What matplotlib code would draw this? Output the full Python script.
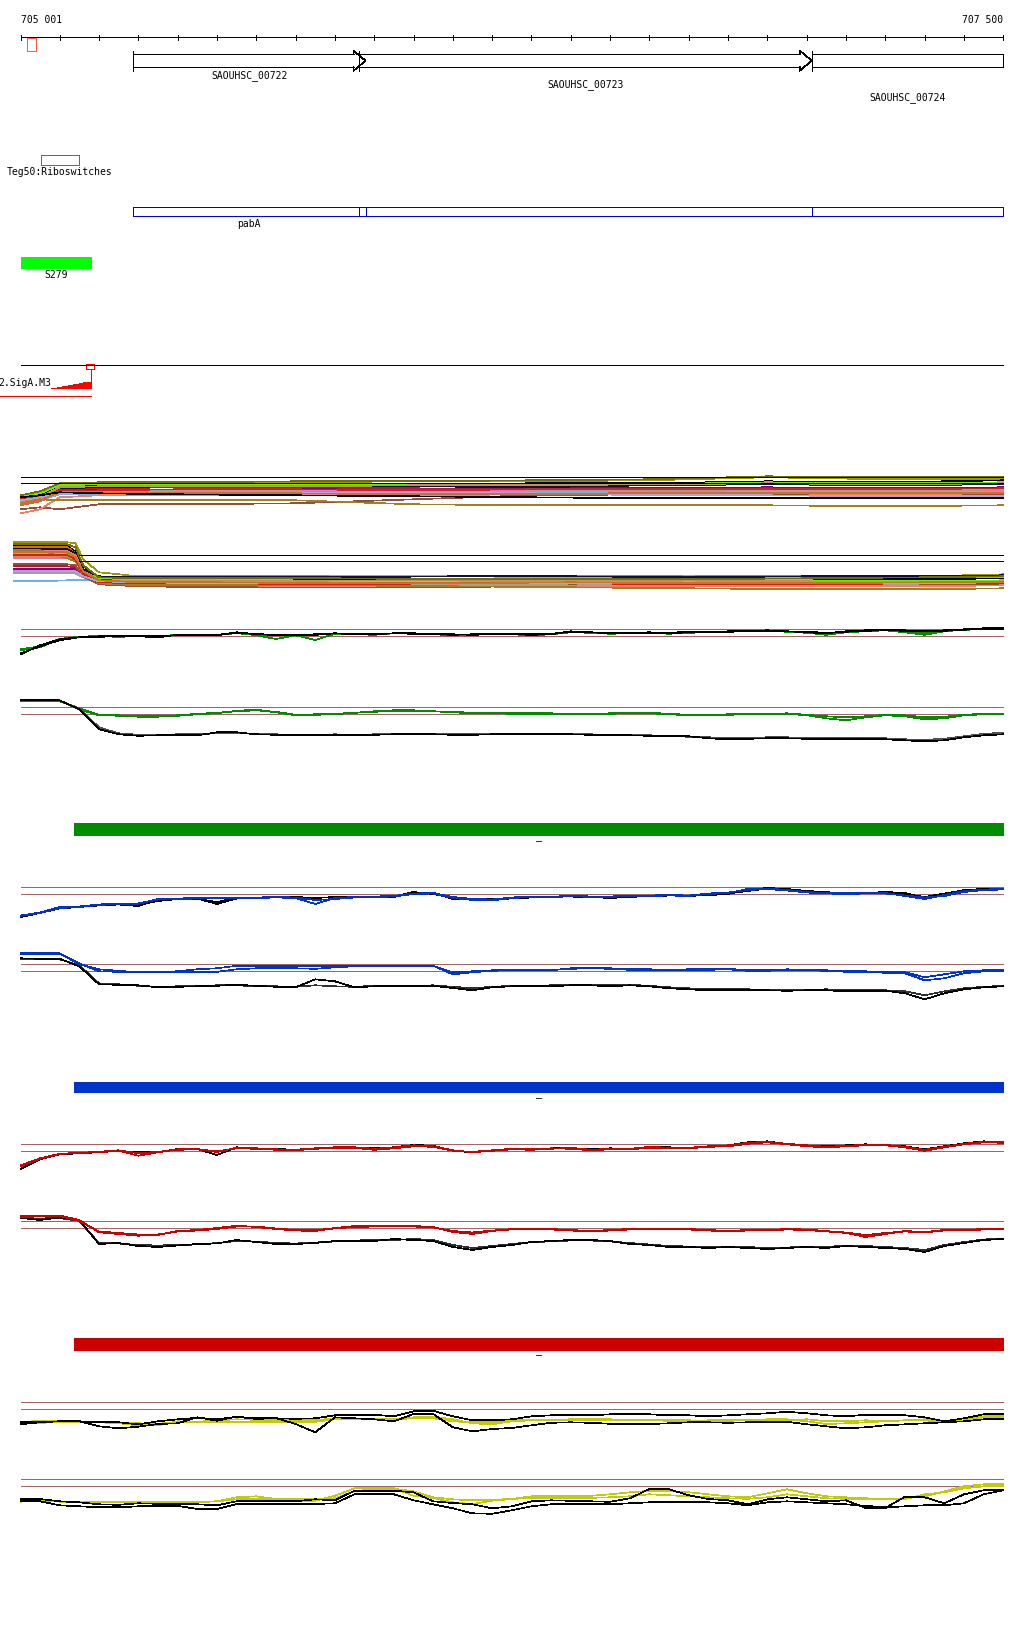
import numpy as np
import matplotlib
matplotlib.use('Agg')
import matplotlib.pyplot as plt

# genome window shown
START, END = 705001, 707500
TICKS = [705001] + list(range(705100, 707501, 100))

# annotation features (bp)
GENES = ['SAOUHSC_00722', 'SAOUHSC_00723', 'SAOUHSC_00724']
GENE_START = [705286, 705862, 707013]
GENE_END = [705878, 707013, 707500]
GENE_ARROW = [True, True, False]
PABA_START, PABA_END = 705286, 707500
PABA_SPLITS = [705862, 705878, 707013]
SMALL_BOX = (705018, 705041)
TEG50 = (705052, 705150)
S279 = (705001, 705179)
SIGA_BOX = (705167, 705187)
SIGA_POS = [705078, 705093, 705105, 705122, 705135, 705148, 705160, 705179]
SIGA_SCORE = [0.3, 1, 2, 3.3, 4.3, 5.3, 6.3, 7]
BAR_START = 705137

# multi-sample tracks (coarse grid)
MA_POS = [705001, 705050, 705100, 705200, 705400, 705700, 706000, 706300, 706600, 706900, 707200, 707500]
MA_LINES = [
    [-14, -10, -1, 0, 1, 1, 2, 2, 3, 6, 4, 4],
    [-13, -11, -3, -2, -2, -1, -1, 0, 0, 2, 1, 3],
    [-22, -18, -10, -9, -9, -9, -10, -10, -9, -8, -9, -9],
    [-18, -17, -11, -11, -11, -11, -10, -9, -8, -8, -9, -8],
    [-16, -13, -7, -7, -6, -6, -6, -5, -5, -4, -5, -4],
    [-15, -12, -6, -5, -4, -4, -5, -6, -6, -5, -6, -6],
    [-13, -10, -2, -1, -2, -2, -1, -1, -1, 1, 0, 1],
    [-19, -15, -8, -7, -7, -8, -7, -7, -8, -7, -7, -7],
    [-17, -15, -9, -8, -8, -8, -9, -8, -7, -7, -8, -6],
    [-14, -12, -5, -4, -3, -3, -3, -4, -2, -1, -2, -1],
    [-26, -24, -26, -21, -21, -20, -16, -12, -11, -11, -12, -11],
    [-30, -26, -14, -12, -12, -12, -12, -11, -10, -10, -11, -10],
    [-20, -16, -17, -17, -17, -17, -21, -22, -22, -22, -23, -22],
    [-18, -14, -4, -3, -3, -3, -2, -2, -1, 0, -1, 0],
    [-16, -13, -8, -7, -6, -6, -7, -6, -6, -6, -6, -5],
    [-17, -14, -10, -10, -10, -10, -10, -10, -12, -12, -13, -13],
    [-12, -8, 0, 1, 1, 2, 2, 3, 4, 7, 6, 6],
    [-21, -17, -9, -9, -10, -10, -11, -11, -10, -10, -10, -10],
    [-14, -12, -9, -10, -11, -12, -13, -14, -15, -15, -15, -15],
]
MB_POS = [704983, 705050, 705120, 705140, 705160, 705200, 705300, 705500, 705800,
          706100, 706400, 706700, 707000, 707300, 707500]
MB_LINES = [
    [19, 19, 19, 18, 2, -11, -15, -15, -15, -15, -15, -15, -15, -15, -13],
    [16, 16, 15, 10, -5, -16, -17, -18, -19, -19, -18, -19, -18, -18, -17],
    [14, 14, 14, 8, -8, -18, -20, -20, -21, -21, -22, -21, -21, -20, -20],
    [-20, -20, -19, -19, -19, -18, -17, -16, -15, -15, -16, -15, -16, -16, -16],
    [-8, -8, -8, -8, -14, -19, -19, -21, -21, -22, -21, -22, -21, -21, -22],
    [-5, -5, -5, -6, -13, -20, -20, -21, -22, -23, -23, -22, -22, -22, -21],
    [7, 8, 8, 4, -10, -17, -18, -18, -17, -18, -18, -18, -19, -20, -19],
    [3, 3, 3, 0, -12, -20, -21, -22, -22, -21, -20, -21, -22, -22, -21],
    [-12, -12, -12, -12, -16, -21, -22, -23, -23, -23, -23, -24, -24, -23, -22],
    [12, 12, 12, 8, -8, -15, -16, -16, -16, -15, -15, -16, -15, -15, -14],
    [-3, -3, -3, -4, -15, -23, -25, -26, -26, -26, -24, -25, -25, -24, -23],
    [10, 10, 10, 6, -10, -21, -24, -24, -25, -24, -25, -25, -25, -25, -24],
    [11, 11, 3, 0, -12, -22, -24, -24, -24, -25, -26, -27, -28, -28, -27],
    [5, 5, 5, 2, -11, -19, -20, -20, -20, -19, -20, -20, -20, -21, -20],
    [6, 6, 6, 2, -12, -21, -22, -22, -23, -22, -22, -23, -23, -22, -22],
    [-10, -10, -10, -10, -15, -20, -21, -22, -21, -21, -22, -21, -22, -22, -21],
    [17, 17, 17, 14, -4, -16, -17, -17, -17, -18, -18, -18, -17, -16, -15],
    [9, 9, 9, 4, -10, -19, -21, -21, -22, -22, -21, -22, -22, -21, -21],
]
MULTI_COLORS = ['#9a9a00', '#000000', '#e06030', '#70b0f0', '#800080', '#c0103c',
                '#66ee00', '#e870a0', '#a0a0a0', '#101040', '#905040', '#f08060',
                '#a08020', '#c09060', '#d02020', '#b0a0e0', '#707000', '#d07020', '#000000']

# condition tracks: 50 bp grid
POS = [705001] + list(range(705050, 707501, 50))

G1_BLACK = [-18, -9, -3, -1, 0, 0, 0, -1, 1.5, 1, 1, 4, 2, 1.5, 1.5, 2, 3, 2, 2, 3,
            2.5, 2, 1.5, 2, 2.5, 2, 1.5, 2, 5, 4, 3, 3.5, 4, 3, 4, 4, 5, 5.5, 6, 5,
            4, 3, 5, 6, 6.5, 6, 5, 6, 7, 8, 8]
G1_BLACK2 = [-17, -10, -4, -1, -0.5, 0, 0.5, 0, 1, 1.5, 1.5, 3.5, 2.5, 1, 1, 1.5, 3, 2.5, 2, 3,
             3, 2.5, 2, 1.5, 2, 2.5, 2, 2.5, 4.5, 4, 3.5, 3, 3.5, 3.5, 4.5, 4.5, 4.5, 5, 5.5, 5,
             4.5, 3.5, 4.5, 5.5, 6, 5.5, 5, 5.5, 6.5, 7.5, 7.5]
G1_GREEN = [-14, -11, -3, -1, 0, -0.5, 0, 0, 1.5, 1, 1, 3.5, 1, -2.7, 1, -3.7, 2.5, 2, 1.5, 3,
            2.5, 2, 1, 1.5, 2, 2, 1, 2, 4, 3.5, 2.5, 3, 3.5, 2.5, 3.5, 4, 4.5, 5, 5.5, 4.5,
            3.5, 1.5, 4, 5, 6, 4, 1.5, 5, 6.5, 7.5, 8]
G1_GREEN2 = [-13, -10, -2.5, -0.5, 0.5, 0.5, 0.5, 0, 1, 1.5, 1.5, 3, 1.5, 1, 1.5, 1.5, 2.5, 2.5, 2, 3,
             3, 2.5, 1.5, 1.5, 2.5, 2.5, 1.5, 2.5, 4.5, 4, 3, 3.5, 3.5, 3, 4, 4, 5, 5, 5.5, 5,
             4, 2.5, 4.5, 5.5, 6, 5, 3, 5.5, 6.5, 7, 7.5]
G2_BLACK = [14.3, 14.3, 14, 5, -15, -20, -21.5, -21, -20.5, -21, -18, -18, -20, -20.5, -21, -21, -21, -21, -20.5, -20,
            -20, -20, -20.5, -20.5, -20, -20, -19.5, -20, -20, -20.5, -21, -21, -21.5, -22, -22, -24, -25, -24.5, -24, -24,
            -24.5, -25, -25, -24.5, -25, -26, -27, -26, -23, -21, -20]
G2_GREY = [13.5, 13.8, 13.5, 6, -13, -19, -20.5, -20.5, -20, -20, -19, -19, -19.5, -20, -20.5, -20.5, -20, -20.5, -20, -19.5,
           -19.5, -20, -20, -20, -19.5, -19.5, -19.5, -19.5, -20, -20, -20.5, -20.5, -21, -21.5, -22.5, -23, -23.5, -23.5, -23, -23,
           -23.5, -24, -24, -23.5, -24, -25, -25.5, -24.5, -22, -19.5, -18.5]
G2_GREEN = [13.5, 13.5, 13.5, 5, -1, -1, -2.4, -2.4, -1.5, 0, 1, 3.5, 4.6, 2, -1, -0.5, 0, 1.5, 3, 4,
            4, 3, 2, 1, 1, 0.5, 0.5, 0.5, 0, 0, 0.5, 1, 1, 0, -1, -1, -0.5, 0, 0, 0.5,
            -1, -4, -6, -3, -1, -2, -5, -4, -1, 0, 0]
G2_GREEN2 = [13, 13, 13, 6, -0.5, -1.5, -2, -2, -1, 0.5, 1.5, 3, 4, 2.5, -0.5, 0, 0.5, 1.5, 2.5, 3.5,
             3.5, 3, 2.5, 1.5, 1, 1, 1, 1, 0.5, 0.5, 1, 1.5, 1.5, 0.5, -0.5, -0.5, 0, 0.5, 0.5, 1,
             -0.5, -2, -3, -2, -0.5, -1, -3, -2.5, -0.5, 0.5, 0.5]

B1_BLACK = [-23, -19, -14, -13, -11, -10, -11, -7, -5, -5, -8, -4, -4, -3, -3, -4, -3, -3, -3, -3,
            1, 1.5, -5, -5.5, -5, -4, -3, -3, -2, -3, -4, -3, -2, -1, -2, -1, 0, 4, 6, 5,
            3, 2, 0, 1, 2, 1, -4, 0, 4, 5, 5]
B1_BLACK2 = [-22, -19, -14.5, -13, -11.5, -10.5, -12, -6, -5, -4.5, -10, -4.5, -3.5, -3.5, -4, -3.5, -3.5, -2.5, -3, -2.5,
             2, 0, -4, -5, -5.5, -4.5, -3.5, -2.5, -2.5, -3.5, -3.5, -2.5, -2.5, -1.5, -1.5, -1.5, 0.5, 3, 5.5, 4.5,
             2.5, 1.5, 0.5, 1.5, 1.5, 0, -3, 0.5, 3.5, 4.5, 5.5]
B1_BLUE = [-22, -19, -14, -13, -11, -10, -10, -5, -5, -4.5, -4, -4, -4, -3.5, -4, -10, -4, -3, -3, -2.5,
           0, 0.5, -4, -6, -6.5, -4, -3, -3.5, -2, -3, -3, -2, -2, -1.5, -2, 0, 1, 5, 5.5, 4,
           2, 1, 1, 1, 1, -2, -5, -1, 3, 4.5, 5]
B1_BLUE2 = [-21.5, -18.5, -13, -12.5, -10.5, -9.5, -9.5, -5.5, -4.5, -4, -4.5, -3.5, -3.5, -3, -3.5, -6, -5, -3.5, -2.5, -2,
            0.5, 1, -3, -5, -5.5, -3.5, -2.5, -3, -1.5, -2.5, -2.5, -1.5, -1.5, -1, -1.5, 0.5, 1.5, 4, 5, 3.5,
            1.5, 0.5, 0, 0.5, 0.5, -1.5, -3.5, -2, 2, 4, 4.5]
B2_BLUE = [18, 18, 18, 7, 2, 0.5, -1, -0.5, 0, 2, 3, 5.5, 5.5, 5.5, 5.5, 5.5, 5.5, 5.5, 5.5, 5.5,
           5.5, 5.5, -3, -1, 0.5, 1, 1, 1, 3, 3.5, 3, 2, 2, 1.5, 2, 2, 2.5, 1, 1, 2,
           1.5, 1, 0, 0, -1, -1, -6, -3, 0, 1, 1]
B2_BLUE2 = [17, 17.5, 17.5, 8, 0, -0.5, -0.5, -1, -0.5, -0.5, -0.5, 2, 3, 3, 3, 2.5, 4, 5, 5.5, 5.5,
            5.5, 5.5, -1, 0, 1, 1.5, 1.5, 1.5, 2.5, 3, 2.5, 1.5, 1.5, 1, 1.5, 1.5, 2, 0.5, 0.5, 1.5,
            1, 0.5, -0.5, -0.5, -1.5, -2, -9, -7, -2, 0, 0.5]
B2_BLACK = [13, 12.5, 12.5, 5, -13, -13.5, -14, -16, -15.5, -15, -14.5, -13.5, -14.5, -15.5, -16, -8, -10, -16, -15, -15,
            -15, -14.5, -16.7, -19, -16, -15, -15, -15, -14, -14, -15, -14, -15, -17, -18, -19, -19, -18.5, -19, -19.5,
            -19, -19, -20, -20, -19.5, -22, -28, -22, -18, -16, -15]
B2_BLACK2 = [12, 12, 12, 6, -12, -13, -14.5, -15.5, -15, -14.5, -14, -14, -15, -15, -15.5, -14, -15, -15.5, -14.5, -14.5,
             -14.5, -14, -15.5, -17, -15.5, -14.5, -14.5, -14, -13.5, -13.5, -14, -13.5, -14.5, -16, -17, -18, -18, -18, -18.5, -19,
             -18.5, -18, -19, -19, -19, -20, -24, -20, -17, -15.5, -14.5]

R1_BLACK = [-17.7, -8, -3, -2, -1, 0.5, -1, -1, 2.3, 2.3, -3.7, 4, 3, 2.3, 1.6, 3, 4, 4, 3, 4,
            6.3, 5.6, 0.6, -1, 0.6, 2.3, 2, 3, 3, 2, 3, 2, 4, 4, 3, 5, 6, 9, 10, 7,
            6, 5, 6, 7, 6, 5, 2, 5, 8, 10, 9]
R1_RED = [-15, -7.5, -2.7, -1.7, -1, 0.6, -4.4, -1, 2, 2.3, -0.7, 3.5, 3, 2, 1.5, 3, 4, 4, 2.5, 4,
          6, 5, 1, -1, 0.5, 2, 1.5, 2.5, 3.5, 1.5, 2.5, 2.5, 4.5, 3.5, 3.5, 5, 6, 8.5, 9.5, 7.5,
          6, 4.5, 5.5, 6.5, 6.5, 4.5, 1.5, 4.5, 7.5, 9.5, 9]
R1_RED2 = [-14, -7, -2.5, -1.5, -0.5, 1, -2, -0.5, 1.5, 2, 0, 3, 2.5, 1.5, 1, 2.5, 3.5, 3.5, 1.5, 3,
           5, 4.5, 0.5, -0.5, 1, 2.5, 2, 3, 2.5, 1, 2, 2, 3.5, 3, 3, 4.5, 5, 7.5, 9, 7,
           5, 4, 5, 6, 6, 4, 0.5, 4, 7, 9, 8.5]
R2_RED = [12.3, 12, 12.5, 8, -4.3, -6, -7.7, -7, -3, -2, 0, 2.3, 1, -1, -2.5, -3, 0, 2, 2, 2,
          2, 1, -4, -6, -3, -1, -1, -1, -2, -3, -2, -1, -1, -0.5, -1, -2, -3, -2, -2, -1,
          -1.5, -3, -5, -9, -6, -3, -4, -2, -2, -1, -1]
R2_RED2 = [11, 11.5, 12, 7, -3.5, -5, -6.5, -6.5, -3.5, -2.5, -1, 1.5, 1.5, -0.5, -2, -2, -0.5, 1, 1.5, 1.5,
           1.5, 0.5, -3, -4.5, -2.5, -1.5, -1.5, -1.5, -2.5, -3.5, -2.5, -1.5, -1.5, -1, -1.5, -2.5, -3.5, -2.5, -2.5, -1.5,
           -2, -3.5, -4.5, -7, -5, -3.5, -4.5, -2.5, -2.5, -1.5, -1.5]
R2_BLACK = [10, 8, 10.5, 8, -16, -15, -18, -19, -17.5, -16, -15.5, -12, -14, -16, -16, -15, -13, -13, -13, -11,
            -12, -13, -19, -22, -19, -17, -14, -13, -12, -12, -13, -16, -17, -19, -19, -20, -19, -20, -21, -20,
            -19, -20, -18, -19, -20, -21, -24, -18, -15, -12, -11]
R2_BLACK2 = [9.5, 9.5, 10, 7, -15, -15.5, -17, -17.5, -17, -16.5, -15, -13, -13.5, -15, -15.5, -14.5, -13.5, -12.5, -12, -12,
             -11, -12, -17, -20, -18, -16, -14, -13.5, -12.5, -12.5, -13.5, -15, -16.5, -18, -18.5, -19, -18.5, -19, -20, -19.5,
             -18.5, -19, -17.5, -18, -19, -20, -22, -17, -14, -11.5, -10.5]

Y1_BLACK = [-15, -13, -12, -12, -17, -19, -17.4, -14.7, -14, -8, -11.4, -7.4, -9.7, -8.7, -14.7, -23, -8, -9, -10, -12,
            -4.7, -4.7, -18, -22, -19.7, -18.7, -16, -13.5, -13, -13.5, -14.5, -14.5, -14.7, -14, -13, -13, -13.5, -13, -13, -12.5,
            -15, -17, -19, -18, -16, -15, -14, -13, -12, -10, -10]
Y1_BLACK2 = [-12.5, -12.5, -12, -12, -13, -13, -15, -12, -10, -8.5, -10, -7.5, -9, -9, -9.5, -9, -6, -5.5, -5.5, -7,
             -2, -1.5, -7, -11, -11, -10, -7, -6, -5.5, -6, -5, -4.5, -5, -6, -6, -7, -6, -5, -4, -2.5,
             -4, -6, -7, -5.5, -5.5, -6, -8, -12, -9, -5, -4.7]
Y1_YELLOW = [-12.5, -11.7, -12, -12.5, -13, -14, -16, -16, -12, -12.5, -11, -10, -10.5, -10.5, -10.5, -11, -9, -9, -10, -10,
             -8, -7.5, -10, -14, -15, -12, -11, -10.5, -10, -9.5, -10, -10.5, -11, -11.5, -12, -11, -10.5, -11, -10, -10,
             -12, -14.7, -14, -13, -12, -11, -10, -12, -9, -7, -7]
Y1_YELLOW2 = [-14, -13.5, -13, -13, -13, -14, -14, -14.5, -12.5, -13, -12.5, -12.5, -12.5, -12.5, -12.5, -12.5, -10, -10, -10, -10,
              -9, -9, -12, -13, -13, -11, -11, -11, -11, -11, -11, -11, -11, -11, -11, -11.5, -11.5, -11, -11, -11,
              -10, -12, -12, -11, -11.5, -11, -11, -13, -11, -8, -8]
Y2_YELLOW = [-12.7, -13.7, -15.4, -15.4, -15.4, -15.4, -15.4, -15.4, -15.4, -15.4, -15, -11, -10, -12.7, -14.4, -14.4, -9.4, -2, -2, -2,
             -9.4, -11.7, -16, -17.7, -14.4, -12.7, -10, -9.5, -9.5, -9.5, -8, -6, -4.5, -5, -6, -8, -10, -11, -7, -3,
             -7, -10, -11, -12, -12.5, -12, -10, -5, 0, 2, 2.5]
Y2_YELLOW2 = [-15.4, -14, -15, -16, -16, -16, -16, -16, -16, -16, -15, -13, -13, -13, -13, -13, -12, -5, -2.5, -2.5,
              -5, -11, -13, -14, -13.7, -12.5, -12, -12, -11.5, -11.5, -11, -10, -8, -9, -10, -11, -12, -12.5, -11, -8,
              -10, -12, -12.5, -13, -13, -12.7, -8, -6, -2, 0, 0]
Y2_BLACK = [-13, -12.7, -15, -16, -18, -18.5, -17, -17.5, -18, -18, -19, -15, -14.4, -14.4, -15, -13, -14, -4.4, -4.4, -4.4,
            -6, -15, -16.7, -18, -22, -20, -15, -14, -14.5, -15, -15.5, -12, -2.7, -3, -9, -12.7, -14, -18, -13, -11,
            -13, -15, -14, -21.7, -21.7, -10.4, -11, -17, -8, -4, -4]
Y2_BLACK2 = [-14.7, -15, -19, -20, -21, -21, -20, -19.5, -19.5, -22.7, -22.7, -17.7, -17.7, -17.7, -17.7, -17.7, -17, -8, -7.7, -8,
             -14, -18, -22, -27, -27.5, -24, -20, -18, -17.5, -18, -18, -17, -16, -15.5, -16, -16, -17, -19, -16, -15,
             -16, -17, -18, -19.5, -21, -20, -19, -19, -17, -8, -4]

THRESH = [0, 7]
MULTI_THRESH = [0, 6.3]

GREEN, BLUE, RED, YELLOW = '#008c00', '#0033cc', '#cc0000', '#c4cc00'
BROWN = '#a06464'
FONT = dict(family='DejaVu Sans Mono', fontsize=7)
LW = 0.5

W, H = 1024, 1640
bp_px = (1003.3 - 20.7) / (END - START)
XL = (START - 20.7 / bp_px, END + (W - 1003.3) / bp_px)

fig = plt.figure(figsize=(W / 100, H / 100), dpi=100)
ax = fig.add_axes([0, 0, 1, 1])
ax.set_xlim(XL)
ax.set_ylim(H, 0)
ax.axis('off')


def seg(x0, x1, y0, y1, c='black', **kw):
    ax.plot([x0, x1], [y0, y1], color=c, lw=LW, antialiased=False, solid_capstyle='butt', **kw)


def rect(x0, x1, y0, y1, c, fill=False):
    ax.add_patch(plt.Rectangle((x0, y0), x1 - x0, y1 - y0, fill=fill, facecolor=c if fill else 'none',
                               edgecolor=c, lw=LW, antialiased=False))


# ruler
seg(START, END, 38.3, 38.3)
ax.vlines(TICKS, 36, 40.7, color='black', lw=LW, antialiased=False)
ax.text(START, 20, '705 001', ha='left', va='center', **FONT)
ax.text(END, 20, '707 500', ha='right', va='center', **FONT)
rect(SMALL_BOX[0], SMALL_BOX[1], 38.7, 51.7, '#f06048')

# genes
head = 12 / bp_px
label_y = [76, 85, 98]
for name, s, e, arr, ly in zip(GENES, GENE_START, GENE_END, GENE_ARROW, label_y):
    seg(s, s, 51.7, 71.7)
    if arr:
        hb = e - head
        seg(s, hb, 55, 55)
        seg(s, hb, 68.3, 68.3)
        ax.plot([hb, hb, e, hb, hb], [55, 51.7, 61.7, 71.7, 68.3], color='black', lw=LW, antialiased=False)
    else:
        seg(s, e, 55, 55)
        seg(s, e, 68.3, 68.3)
        seg(e, e, 55, 68.3)
    ax.text((s + e) / 2, ly, name, ha='center', va='center', **FONT)

# riboswitch
rect(TEG50[0], TEG50[1], 155.7, 166, '#ff00ff')
ax.text(sum(TEG50) / 2, 172, 'Teg50:Riboswitches', ha='center', va='center', **FONT)

# pabA
rect(PABA_START, PABA_END, 207.7, 217, '#0000e0')
for p in PABA_SPLITS:
    seg(p, p, 207.7, 217, '#0000e0')
ax.text((GENE_START[0] + GENE_END[0]) / 2, 224, 'pabA', ha='center', va='center', **FONT)

# S279
rect(S279[0], S279[1], 258, 268.7, '#00ff00', fill=True)
ax.text(sum(S279) / 2, 275, 'S279', ha='center', va='center', **FONT)

# promoter motif
seg(START, END, 366, 366)
rect(SIGA_BOX[0], SIGA_BOX[1], 365.3, 370, 'red')
seg(SIGA_POS[-1], SIGA_POS[-1], 370, 389.3, 'red')
ax.fill_between(SIGA_POS, 389.3, 389.3 - np.array(SIGA_SCORE), step='post', color='red', lw=0)
seg(SIGA_POS[0], SIGA_POS[-1], 389.3, 389.3, 'red')
ax.text(SIGA_POS[0] + 1, 383.3, '2.SigA.M3', ha='right', va='center', **FONT)
seg(XL[0], SIGA_POS[-1], 397.3, 397.3, 'red')

# condition bars
for y0, y1, c in [(824, 836, GREEN), (1082.6, 1093, BLUE), (1339, 1350.5, RED)]:
    rect(BAR_START, END, y0, y1, c, fill=True)
    ax.text((BAR_START + END) / 2, y1 + 5, '\u2013', ha='center', va='center', **FONT)


def track(lo_px):
    t = fig.add_axes([0, 1 - (lo_px + 40) / H, 1, 80 / H])
    t.set_xlim(XL)
    t.set_ylim(-40, 40)
    t.axis('off')
    t.patch.set_alpha(0)
    return t


def line(t, x, y, c):
    t.plot(x, y, color=c, lw=LW, antialiased=False, clip_on=False)


# multi-sample tracks
ta = track(484.3)
for vals, c in zip(MA_LINES, MULTI_COLORS):
    line(ta, MA_POS, vals, c)
ta.hlines(MULTI_THRESH, START, END, color='black', lw=LW, antialiased=False, zorder=3)

tb = track(562.3)
for vals, c in zip(MB_LINES, MULTI_COLORS):
    line(tb, MB_POS, vals, c)
tb.hlines(MULTI_THRESH, 705150, END, color='black', lw=LW, antialiased=False, zorder=3)

# per-condition tracks
tracks = [
    (637.3, [(G1_GREEN2, GREEN), (G1_GREEN, GREEN), (G1_BLACK2, 'black'), (G1_BLACK, 'black')]),
    (715.3, [(G2_GREEN2, GREEN), (G2_GREEN, GREEN), (G2_GREY, '#505050'), (G2_BLACK, 'black')]),
    (895.0, [(B1_BLACK2, 'black'), (B1_BLACK, 'black'), (B1_BLUE2, BLUE), (B1_BLUE, BLUE)]),
    (972.3, [(B2_BLACK2, '#303030'), (B2_BLACK, 'black'), (B2_BLUE2, BLUE), (B2_BLUE, BLUE)]),
    (1152.3, [(R1_BLACK, 'black'), (R1_RED2, RED), (R1_RED, RED)]),
    (1229.0, [(R2_BLACK2, '#303030'), (R2_BLACK, 'black'), (R2_RED2, RED), (R2_RED, RED)]),
    (1410.3, [(Y1_YELLOW2, YELLOW), (Y1_YELLOW, YELLOW), (Y1_BLACK2, 'black'), (Y1_BLACK, 'black')]),
    (1487.3, [(Y2_YELLOW2, YELLOW), (Y2_YELLOW, YELLOW), (Y2_BLACK2, 'black'), (Y2_BLACK, 'black')]),
]
for lo, series in tracks:
    t = track(lo)
    t.hlines(THRESH, START, END, color=BROWN, lw=LW, antialiased=False, zorder=0)
    for vals, c in series:
        line(t, POS, vals, c)

fig.savefig('out.png', dpi=100)
